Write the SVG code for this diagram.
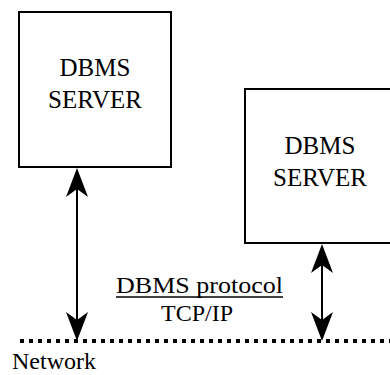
<svg xmlns="http://www.w3.org/2000/svg" width="390" height="375" viewBox="0 0 390 375">
<style>
.box{fill:#fff;stroke:#000;stroke-width:2}
text{font-family:'Liberation Serif','Times New Roman',Times,serif;fill:#000}
.t{text-anchor:middle}
.big{font-size:25px}
.mid{font-size:24px}
.shaft{stroke:#000;stroke-width:2;fill:none}
.net{stroke:#000;stroke-width:4;stroke-dasharray:4 5;fill:none}
</style>
<defs>
<path id="headUp" d="M0,0 L11,29 L0,21 L-11,29 Z" fill="#000"/>
<path id="headDown" d="M0,0 L11,-29 L0,-21 L-11,-29 Z" fill="#000"/>
</defs>
<g id="server1">
<rect class="box" x="19" y="12" width="152" height="155"/>
<text class="t big" x="95" y="76">DBMS</text>
<text class="t big" x="95" y="108">SERVER</text>
</g>
<g id="server2">
<rect class="box" x="245" y="89" width="152" height="154"/>
<text class="t big" x="320" y="154">DBMS</text>
<text class="t big" x="320" y="186">SERVER</text>
</g>
<g id="network">
<line class="net" x1="20" y1="341" x2="390" y2="341"/>
<text class="mid" x="12" y="369">Network</text>
</g>
<g id="connectors">
<line class="shaft" x1="77" y1="180" x2="77" y2="325"/>
<use href="#headUp" x="77" y="168"/>
<use href="#headDown" x="77" y="341"/>
<line class="shaft" x1="322" y1="255" x2="322" y2="325"/>
<use href="#headUp" x="322" y="244"/>
<use href="#headDown" x="322" y="341"/>
</g>
<g id="label">
<text class="mid" x="116" y="293" textLength="167" lengthAdjust="spacingAndGlyphs">DBMS protocol</text>
<line x1="116" y1="297" x2="283" y2="297" stroke="#000" stroke-width="1.5"/>
<text class="mid t" x="197" y="321">TCP/IP</text>
</g>
</svg>
